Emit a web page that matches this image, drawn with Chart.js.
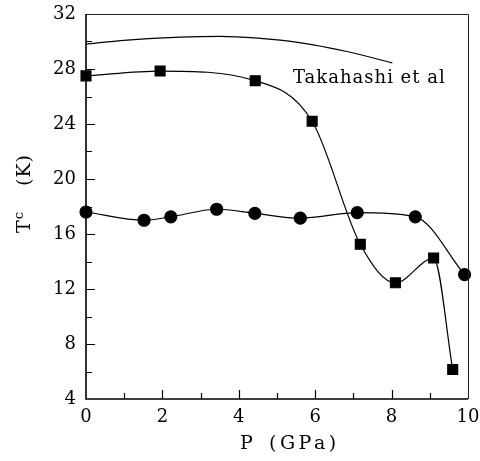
<!DOCTYPE html>
<html>
<head>
<meta charset="utf-8">
<script src="https://cdn.jsdelivr.net/npm/chart.js@4.4.1/dist/chart.umd.min.js"></script>
<style>
html,body{margin:0;padding:0;background:#fff;}
#wrap{width:480px;height:461px;position:relative;}
</style>
</head>
<body>
<div id="wrap"><canvas id="c" width="480" height="461"></canvas></div>
<script>
// Data
const pressureSquares = [0, 1.94, 4.43, 5.92, 7.18, 8.1, 9.1, 9.6];
const tcSquares       = [27.5, 27.85, 27.15, 24.2, 15.25, 12.45, 14.25, 6.15];
const pressureCircles = [0, 1.52, 2.22, 3.42, 4.42, 5.61, 7.1, 8.62, 9.91];
const tcCircles       = [17.6, 17.0, 17.25, 17.8, 17.5, 17.15, 17.55, 17.25, 13.05];
const pressureTakahashi = [0, 0.9, 2.46, 3.5, 4.5, 5.08, 5.95, 6.83, 8.02];
const tcTakahashi       = [29.8, 30.07, 30.32, 30.37, 30.25, 30.1, 29.76, 29.27, 28.45];
const xTicks = [0, 2, 4, 6, 8, 10];
const yTicks = [4, 8, 12, 16, 20, 24, 28, 32];
const xTitle = ["P", "(GPa)"];
const yTitle = ["T", "c", "(K)"];
const annotationText = "Takahashi et al";

const pts = (xs, ys) => xs.map((x, i) => ({x: x, y: ys[i]}));
const SERIF = '"DejaVu Serif", "Liberation Serif", serif';

const framePlugin = {
  id: 'frame',
  afterDatasetsDraw(chart) {
    const ctx = chart.ctx, a = chart.chartArea;
    const xs = chart.scales.x, ys = chart.scales.y;
    ctx.save();
    // top and right frame lines
    ctx.strokeStyle = '#222';
    ctx.lineWidth = 1;
    ctx.beginPath();
    ctx.moveTo(a.left, a.top + 0.5);
    ctx.lineTo(a.right + 0.5, a.top + 0.5);
    ctx.lineTo(a.right + 0.5, a.bottom);
    ctx.stroke();
    // left and bottom axes
    ctx.strokeStyle = '#000';
    ctx.lineWidth = 1.6;
    ctx.beginPath();
    ctx.moveTo(a.left, a.top);
    ctx.lineTo(a.left, a.bottom);
    ctx.lineTo(a.right, a.bottom);
    ctx.stroke();
    // inward ticks
    ctx.lineWidth = 1.2;
    ctx.beginPath();
    for (let v = yTicks[0] + 2; v < yTicks[yTicks.length - 1]; v += 2) {
      const py = Math.round(ys.getPixelForValue(v)) + 0.5;
      const len = (v % 4 === 0) ? 9 : 6;
      ctx.moveTo(a.left, py);
      ctx.lineTo(a.left + len, py);
    }
    for (let v = xTicks[0] + 1; v < xTicks[xTicks.length - 1]; v += 1) {
      const px = Math.round(xs.getPixelForValue(v)) + 0.5;
      const len = (v % 2 === 0) ? 9 : 6;
      ctx.moveTo(px, a.bottom);
      ctx.lineTo(px, a.bottom - len);
    }
    ctx.stroke();

    // annotation
    ctx.fillStyle = '#000';
    ctx.textBaseline = 'alphabetic';
    ctx.textAlign = 'left';
    ctx.font = '18px ' + SERIF;
    ctx.letterSpacing = '1px';
    ctx.fillText(annotationText, 293, 83);

    // x title
    ctx.font = '19px ' + SERIF;
    ctx.letterSpacing = '0px';
    ctx.fillText(xTitle[0], 240, 449);
    ctx.letterSpacing = '3.5px';
    ctx.fillText(xTitle[1], 269, 449);

    // y title (rotated)
    ctx.translate(30, 233);
    ctx.rotate(-Math.PI / 2);
    ctx.letterSpacing = '0px';
    ctx.font = '19px ' + SERIF;
    ctx.fillText(yTitle[0], 0, 0);
    const tw = ctx.measureText(yTitle[0]).width;
    ctx.font = '13px ' + SERIF;
    ctx.fillText(yTitle[1], tw + 1, -7);
    ctx.font = '19px ' + SERIF;
    ctx.letterSpacing = '1px';
    ctx.fillText(yTitle[2], 47, 0);
    ctx.restore();
  }
};

const common = {
  showLine: true,
  borderColor: '#000',
  backgroundColor: '#000',
  pointBackgroundColor: '#000',
  pointBorderColor: '#000',
  borderWidth: 1.2,
  cubicInterpolationMode: 'monotone',
  clip: false,
  fill: false
};

new Chart(document.getElementById('c'), {
  type: 'scatter',
  data: {
    datasets: [
      Object.assign({}, common, {
        label: 'Takahashi',
        data: pts(pressureTakahashi, tcTakahashi),
        pointRadius: 0
      }),
      Object.assign({}, common, {
        label: 'squares',
        data: pts(pressureSquares, tcSquares),
        pointStyle: 'rect',
        pointRadius: 7
      }),
      Object.assign({}, common, {
        label: 'circles',
        data: pts(pressureCircles, tcCircles),
        pointStyle: 'circle',
        pointRadius: 6
      })
    ]
  },
  options: {
    responsive: false,
    animation: false,
    devicePixelRatio: 1,
    layout: {padding: {top: 14, right: 12, left: 0, bottom: 0}},
    plugins: {legend: {display: false}, tooltip: {enabled: false}},
    scales: {
      x: {
        type: 'linear',
        min: 0, max: 10,
        afterBuildTicks: s => { s.ticks = xTicks.map(v => ({value: v})); },
        afterFit: s => { s.height = 62; s.paddingLeft = 0; s.paddingRight = 0; },
        grid: {display: false, drawTicks: false},
        border: {display: false},
        ticks: {color: '#000', padding: 8, maxRotation: 0, font: {family: SERIF, size: 18}}
      },
      y: {
        type: 'linear',
        min: 4, max: 32,
        afterBuildTicks: s => { s.ticks = yTicks.map(v => ({value: v})); },
        afterFit: s => { s.width = 86; s.paddingTop = 0; s.paddingBottom = 0; },
        grid: {display: false, drawTicks: false},
        border: {display: false},
        ticks: {color: '#000', padding: 10, font: {family: SERIF, size: 18}}
      }
    }
  },
  plugins: [framePlugin]
});
</script>
</body>
</html>
